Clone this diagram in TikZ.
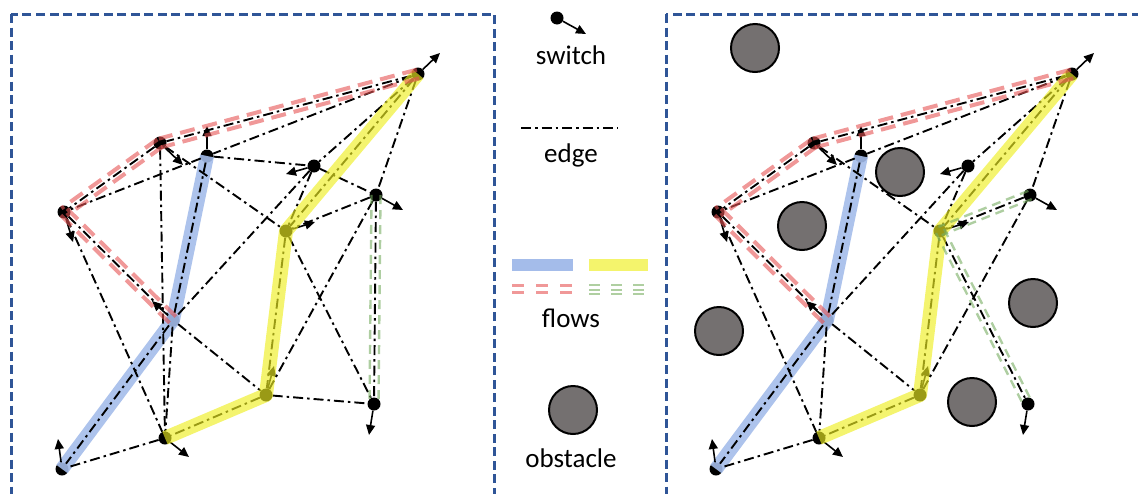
\documentclass[tikz,border=0pt]{standalone}
\usepackage{fontspec}
\setmainfont{Carlito}
\usetikzlibrary{calc,arrows.meta}

\definecolor{frameblue}{HTML}{2F5597}
\definecolor{flowblue}{HTML}{A4BCEA}
\definecolor{flowyellow}{HTML}{EEEE22}
\definecolor{flowred}{HTML}{E65454}
\definecolor{flowgreen}{HTML}{78AE62}
\definecolor{keyyellow}{HTML}{F4F46C}
\definecolor{keyred}{HTML}{F09898}
\definecolor{keygreen}{HTML}{AFCFA1}
\definecolor{obstgrey}{HTML}{747070}

\tikzset{
  sw/.style={circle, fill=black, inner sep=0pt, minimum size=13pt},
  edgeline/.style={line width=1.9pt, dash pattern=on 10pt off 4pt on 2.5pt off 4pt},
  heading/.style={-{Triangle[length=10pt,width=9pt]}, line width=1.6pt},
  panel/.style={draw=frameblue, line width=3pt, dash pattern=on 9pt off 4.5pt},
  bluefl/.style={line width=14pt, flowblue, opacity=0.9},
  yellowfl/.style={line width=14pt, flowyellow, opacity=0.65},
  redfl/.style={line width=4pt, flowred, opacity=0.6, dash pattern=on 15pt off 8pt},
  greenfl/.style={line width=2.4pt, flowgreen, opacity=0.6, dash pattern=on 9pt off 6pt},
  obstacle/.style={circle, draw=black, line width=2pt, fill=obstgrey, minimum size=48pt, inner sep=0pt},
  legendtext/.style={font=\fontsize{27}{32}\selectfont, inner sep=0pt}
}

% switches of one panel: #1 = name prefix, #2 = horizontal shift
\newcommand\placeswitches[2]{%
  \foreach \n/\x/\y/\hx/\hy in {A/418/74/440/53, B/160/143/183/165, C/207/156/207/126,
      D/314/166/286/174, E/376/195/403/210, F/64/212/73/242, G/286/231/315/222,
      H/173/320/152/301, I/266/395/274/366, J/374/404/369/435, K/165/438/189/457,
      L/62/469/58/439}{
    \node[sw] (#1\n) at (\x+#2,\y) {};
    \coordinate (#1\n h) at (\hx+#2,\hy);
  }%
}
% a pair of parallel strokes along a segment
\newcommand\twinseg[4]{% style, from, to, half gap
  \draw[#1] ($(#2.center)!#4!90:(#3.center)$) -- ($(#3.center)!#4!-90:(#2.center)$);
  \draw[#1] ($(#2.center)!#4!-90:(#3.center)$) -- ($(#3.center)!#4!90:(#2.center)$);
}

\begin{document}
\begin{tikzpicture}[x=1pt, y=-1pt]
\useasboundingbox (0,0) rectangle (1138,493);
\begin{scope}
\clip (0,0) rectangle (1138,493);
\draw[panel] (11,14) rectangle (494,520);
\draw[panel] (666,14) rectangle (1160,520);
\end{scope}

\placeswitches{l}{0}
\placeswitches{r}{654}

% obstacles
\foreach \i/\x/\y in {1/755/48, 2/900/172, 3/802/226, 4/719/331, 5/1033/303, 6/972/402}
  \node[obstacle] (obs\i) at (\x,\y) {};

% wide flows beneath the edges
\draw[bluefl, line join=round] (lL.center) -- (lH.center) -- (lC.center);
\draw[bluefl, line join=round] (rL.center) -- (rH.center) -- (rC.center);

% edges
\foreach \a/\b in {A/B, A/C, C/F, A/D, A/E, A/G, B/F, B/G, B/K, C/D, C/H, D/E, D/G, D/H,
    E/G, E/I, E/J, F/H, F/K, G/I, G/J, H/I, H/K, H/L, I/J, I/K, K/L}
  \draw[edgeline] (l\a) -- (l\b);
\foreach \a/\b in {A/B, A/C, C/F, A/D, A/E, A/G, B/F, B/G, C/H, D/G, D/H,
    E/G, E/I, F/H, F/K, G/I, G/J, H/I, H/K, H/L, I/K, K/L}
  \draw[edgeline] (r\a) -- (r\b);

% headings
\foreach \n in {A,B,C,D,E,F,G,H,I,J,K,L}{
  \draw[heading] (l\n) -- (l\n h);
  \draw[heading] (r\n) -- (r\n h);
}

% flows drawn over the switches
\draw[yellowfl, line join=round] (lK.center) -- (lI.center) -- (lG.center) -- (lA.center);
\draw[yellowfl, line join=round] (rK.center) -- (rI.center) -- (rG.center) -- (rA.center);
\twinseg{redfl}{lA}{lB}{4.5pt}
\twinseg{redfl}{lB}{lF}{4.5pt}
\twinseg{redfl}{lF}{lH}{4.5pt}
\twinseg{redfl}{rA}{rB}{4.5pt}
\twinseg{redfl}{rB}{rF}{4.5pt}
\twinseg{redfl}{rF}{rH}{4.5pt}
\twinseg{greenfl}{lE}{lJ}{4.5pt}
\twinseg{greenfl}{rE}{rG}{4.5pt}
\twinseg{greenfl}{rG}{rJ}{4.5pt}

% legend
\node[sw] (keysw) at (557,18) {};
\coordinate (keyswh) at (586,34);
\draw[heading] (keysw) -- (keyswh);
\node[legendtext] (tsw) at (571,55) {switch};
\coordinate (keyea) at (521,128);
\coordinate (keyeb) at (618,128);
\draw[edgeline] (keyea) -- (keyeb);
\node[legendtext] (tedge) at (571,155) {edge};
\coordinate (kb1) at (512,265); \coordinate (kb2) at (573,265);
\coordinate (ky1) at (589,265); \coordinate (ky2) at (648,265);
\draw[line width=12pt, flowblue] (kb1) -- (kb2);
\draw[line width=12pt, keyyellow] (ky1) -- (ky2);
\foreach \yy in {285.5,292.5}
  \draw[line width=3.5pt, keyred, dash pattern=on 12pt off 12pt] (512,\yy) -- (574,\yy);
\foreach \yy in {285,289.5,294}
  \draw[line width=2pt, keygreen, dash pattern=on 11pt off 11pt] (589,\yy) -- (648,\yy);
\node[legendtext] (tflows) at (571,318) {flows};
\node[obstacle] (keyobs) at (573,410) {};
\node[legendtext] (tobs) at (571,458) {obstacle};
\end{tikzpicture}
\end{document}
